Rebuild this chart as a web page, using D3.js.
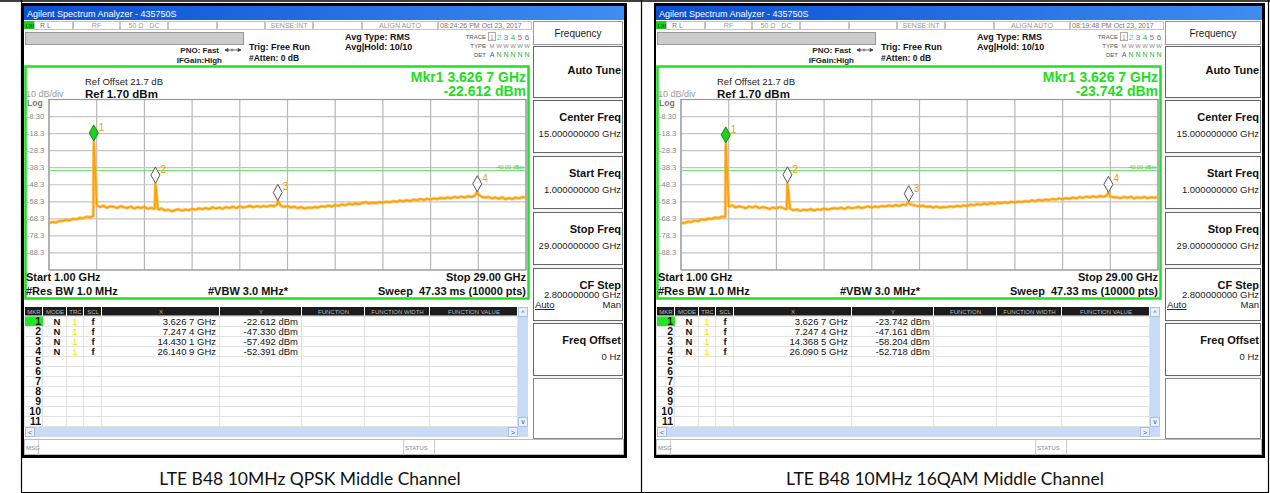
<!DOCTYPE html>
<html>
<head>
<meta charset="utf-8">
<script src="https://cdn.jsdelivr.net/npm/d3@7"></script>
<style>
body { margin: 0; background: #fff; }
svg { display: block; }
text { font-family: "Liberation Sans", Arial, sans-serif; white-space: pre; }
</style>
</head>
<body>
<svg id="chart" width="1270" height="493"></svg>
<script>
// sweep settings shown on both screens
var sweepStart = 1.0, sweepStop = 29.0;
var refLevel = 1.70, dbPerDiv = 10, displayLine = -40.00;
var yTickLabels = ["-8.30", "-18.3", "-28.3", "-38.3", "-48.3", "-58.3", "-68.3", "-78.3", "-88.3"];

var traceFreqs = d3.range(sweepStart, sweepStop + 0.001, 0.2);
var qpskTrace = [
  -70.9, -70.1, -70.4, -69.5, -69.6, -68.8, -69.3, -68.3, -68.6, -67.7, -67.9, -67.0, -67.4, -66.8,
  -60.3, -61.4, -60.6, -61.8, -60.9, -61.2, -62.0, -60.8, -61.5, -61.9, -61.0, -62.3, -61.4, -62.0, -61.2, -62.4, -61.8,
  -62.5, -63.0, -62.2, -63.4, -62.9, -63.8, -63.1, -62.6, -63.5, -62.8, -63.2, -62.4, -63.0, -62.1, -62.7,
  -61.9, -62.6, -61.5, -62.2, -61.6, -62.4, -61.3, -61.9, -61.1, -62.0, -60.9, -61.7, -61.2, -60.6, -61.5, -60.8, -61.3,
  -60.7, -61.2, -60.4, -60.9, -59.8, -60.6, -61.3, -60.8, -61.6, -61.1, -62.0, -61.4, -62.2, -61.6, -61.9,
  -61.3, -61.7, -60.9, -61.2, -60.5, -61.0, -60.2, -60.6, -59.8, -60.3, -59.4, -59.9, -59.2, -59.7, -59.0, -58.5, -59.3, -58.7, -59.1, -58.4, -58.9, -58.2,
  -58.6, -57.9, -58.3, -57.5, -58.0, -57.3, -57.8, -57.0, -57.4, -56.7, -57.2, -56.5, -56.9, -56.3,
  -56.7, -56.0, -56.4, -55.7, -56.2, -55.4, -55.9, -55.2, -55.8, -55.0, -55.5, -54.6, -54.0, -55.3,
  -55.9, -55.4, -56.3, -55.7, -56.5, -55.6, -56.8, -56.1, -56.6, -55.8, -56.3, -55.5, -55.9
];
var qamTrace = [
  -70.5, -70.8, -69.9, -70.2, -69.3, -69.7, -68.6, -69.0, -68.1, -68.4, -67.5, -67.8, -66.9, -67.2,
  -61.0, -60.4, -61.6, -60.9, -61.3, -62.1, -61.0, -61.7, -60.8, -62.0, -61.4, -61.8, -62.5, -61.6, -62.2, -61.3, -62.0,
  -62.8, -62.3, -63.3, -62.7, -63.6, -62.9, -63.2, -62.5, -63.4, -62.6, -63.0, -62.2, -62.8, -62.4, -62.0,
  -62.3, -61.7, -62.5, -61.4, -62.1, -61.8, -61.2, -62.0, -61.5, -60.9, -61.6, -61.0, -61.4, -60.7, -61.1, -60.4, -60.9,
  -60.2, -60.8, -59.9, -60.3, -59.5, -60.1, -60.6, -61.0, -60.5, -61.3, -60.9, -61.6, -61.1, -61.8, -61.3,
  -61.5, -60.9, -61.3, -60.6, -61.0, -60.3, -60.8, -59.9, -60.4, -59.6, -60.1, -59.3, -59.8, -59.0, -59.5, -58.8, -59.2, -58.5, -59.0, -58.3, -58.7, -58.1,
  -58.4, -57.8, -58.2, -57.4, -57.9, -57.1, -57.6, -56.9, -57.3, -56.6, -57.0, -56.3, -56.8, -56.1,
  -56.5, -55.8, -56.3, -55.5, -56.0, -55.2, -55.7, -55.0, -55.6, -54.8, -55.3, -54.6, -55.2, -55.7,
  -55.6, -56.2, -55.4, -56.0, -55.3, -56.4, -55.7, -56.1, -55.5, -56.2, -55.6, -55.9, -55.4
];

// marker table values
var qpskMkrFreq = [3.6267, 7.2474, 14.4301, 26.1409];
var qpskMkrAmp = [-22.612, -47.330, -57.492, -52.391];
var qamMkrFreq = [3.6267, 7.2474, 14.3685, 26.0905];
var qamMkrAmp = [-23.742, -47.161, -58.204, -52.718];

var timestamps = ["08:24:26 PM Oct 23, 2017", "08:19:48 PM Oct 23, 2017"];
var captions = ["LTE B48 10MHz QPSK Middle Channel", "LTE B48 10MHz 16QAM Middle Channel"];

var softkeyLabels = ["Auto Tune", "Center Freq", "Start Freq", "Stop Freq", "CF Step", "Freq Offset"];
var softkeyValues = ["", "15.000000000 GHz", "1.000000000 GHz", "29.000000000 GHz", "2.800000000 GHz", "0 Hz"];
var tableCols = ["MKR", "MODE", "TRC", "SCL", "X", "Y", "FUNCTION", "FUNCTION WIDTH", "FUNCTION VALUE"];
var statusCells = ["R L", "RF", "50 \u03a9   DC", "", "", "SENSE:INT", "", "ALIGN AUTO"];

var svg = d3.select("#chart");

var defs = svg.append("defs");
var grad = defs.append("linearGradient").attr("id", "titleGrad");
grad.append("stop").attr("offset", "0%").attr("stop-color", "#0a4fd2");
grad.append("stop").attr("offset", "100%").attr("stop-color", "#3d8df2");

// plain hyphen minus like the instrument shows
var fmtF = function(f) { var s = d3.format(".4f")(f); return s.slice(0, -1) + " " + s.slice(-1) + " GHz"; };
var fmtA = function(a) { return d3.format(".3f")(a).replace("\u2212", "-") + " dBm"; };

function txt(g, x, y, s, size, opts) {
  opts = opts || {};
  return g.append("text")
    .attr("x", x).attr("y", y)
    .attr("font-size", size)
    .attr("font-weight", opts.bold ? "bold" : "normal")
    .attr("text-anchor", opts.anchor || "start")
    .attr("fill", opts.fill || "#111")
    .text(s);
}

function drawScreen(dx, extra, trace, mkrF, mkrA, stamp) {
  var g = svg.append("g").attr("transform", "translate(" + dx + ",0)");
  var right = 627 + extra;

  // black frame + white screen
  g.append("rect").attr("x", 22).attr("y", 3).attr("width", right - 22).attr("height", 455).attr("fill", "#000");
  g.append("rect").attr("x", 24).attr("y", 6).attr("width", right - 27).attr("height", 449).attr("fill", "#fff");

  // title bar
  g.append("rect").attr("x", 24).attr("y", 6).attr("width", right - 27).attr("height", 14).attr("fill", "url(#titleGrad)");
  txt(g, 27, 17, "Agilent Spectrum Analyzer - 435750S", 9, {fill: "#fff"});

  // status row
  var cellEdges = [34, 73, 120, 168, 217, 265, 313, 362, 438, 532];
  g.append("rect").attr("x", 24).attr("y", 21).attr("width", 10).attr("height", 8).attr("fill", "#19d219");
  txt(g, 25.5, 27.5, "LXI", 5.5, {bold: true, fill: "#063"});
  cellEdges.slice(0, -1).forEach(function(x0, i) {
    var x1 = cellEdges[i + 1];
    g.append("rect").attr("x", x0 + 0.5).attr("y", 21.5).attr("width", x1 - x0 - 1).attr("height", 8)
      .attr("fill", "#fff").attr("stroke", "#c4c4c4");
    var s = i < statusCells.length ? statusCells[i] : stamp;
    if (i === 0) txt(g, 40, 28, s, 7, {fill: "#777"});
    else if (i === 8) txt(g, x0 + 2, 28, s, 7, {fill: "#777"});
    else txt(g, (x0 + x1) / 2, 28, s, 7, {fill: "#999", anchor: "middle"});
  });

  // gray bar and acquisition settings
  g.append("rect").attr("x", 25.5).attr("y", 32.5).attr("width", 218).attr("height", 12)
    .attr("fill", "#cbcbcb").attr("stroke", "#999");
  txt(g, 219, 53, "PNO: Fast", 8, {bold: true, anchor: "end", fill: "#222"});
  g.append("path").attr("d", "M225,50H241M225,50l3,-1.5v3zM241,50l-3,-1.5v3zM232,48.5v3")
    .attr("stroke", "#444").attr("fill", "#444").attr("stroke-width", 0.8);
  txt(g, 222, 63, "IFGain:High", 8, {bold: true, anchor: "end", fill: "#222"});
  txt(g, 249, 50, "Trig: Free Run", 9, {bold: true, fill: "#111"});
  txt(g, 249, 61, "#Atten: 0 dB", 8.5, {bold: true, fill: "#111"});
  txt(g, 345, 40, "Avg Type: RMS", 9, {bold: true, fill: "#111"});
  txt(g, 345, 50, "Avg|Hold: 10/10", 9, {bold: true, fill: "#111"});

  // trace / type / det block
  txt(g, 486, 39, "TRACE", 6, {anchor: "end", fill: "#555"});
  txt(g, 486, 48, "TYPE", 6, {anchor: "end", fill: "#555"});
  txt(g, 486, 57, "DET", 6, {anchor: "end", fill: "#555"});
  var trColors = ["#f0a000", "#20c8e0", "#e040d0", "#20c020", "#e84090", "#6060f0"];
  g.append("rect").attr("x", 488.5).attr("y", 32.5).attr("width", 7).attr("height", 8)
    .attr("fill", "none").attr("stroke", "#aaa");
  trColors.forEach(function(c, i) {
    txt(g, 492 + i * 7, 39.5, String(i + 1), 8, {anchor: "middle", fill: c});
    txt(g, 492 + i * 7, 48, i === 0 ? "M" : "W", 6, {anchor: "middle", fill: "#888"});
    txt(g, 492 + i * 7, 57, i === 0 ? "A" : "N", 7, {anchor: "middle", fill: i === 0 ? "#3060c0" : "#30b030"});
  });

  // plot frame
  g.append("rect").attr("x", 25.5).attr("y", 66.5).attr("width", 503).attr("height", 232)
    .attr("fill", "none").attr("stroke", "#22e022").attr("stroke-width", 2.5);

  var gx0 = 49, gx1 = 526, gy0 = 99.5, gy1 = 270;
  var x = d3.scaleLinear().domain([sweepStart, sweepStop]).range([gx0, gx1]);
  var y = d3.scaleLinear().domain([refLevel - 10 * dbPerDiv, refLevel]).range([gy1, gy0]);

  txt(g, 85, 85, "Ref Offset 21.7 dB", 9.5, {fill: "#222"});
  txt(g, 85, 97.5, "Ref 1.70 dBm", 11.5, {bold: true, fill: "#111"});
  txt(g, 26, 97, "10 dB/div", 9, {fill: "#999"});
  txt(g, 27, 105.5, "Log", 8.5, {bold: true, fill: "#777"});
  txt(g, 526, 82, "Mkr1 " + fmtF(mkrF[0]), 14, {bold: true, anchor: "end", fill: "#22dd22"});
  txt(g, 526, 96, fmtA(mkrA[0]), 14, {bold: true, anchor: "end", fill: "#22dd22"});

  // grid
  var grid = g.append("g");
  d3.range(11).forEach(function(i) {
    var f = sweepStart + i * (sweepStop - sweepStart) / 10;
    grid.append("line").attr("x1", x(f)).attr("x2", x(f)).attr("y1", gy0).attr("y2", gy1)
      .attr("stroke", "#b8b8b8").attr("stroke-width", 1.2);
    var lv = refLevel - i * dbPerDiv;
    grid.append("line").attr("x1", gx0).attr("x2", gx1).attr("y1", y(lv)).attr("y2", y(lv))
      .attr("stroke", "#c4c4c4").attr("stroke-width", 1.2);
  });
  grid.append("rect").attr("x", gx0).attr("y", gy0).attr("width", gx1 - gx0).attr("height", gy1 - gy0)
    .attr("fill", "none").attr("stroke", "#999").attr("stroke-width", 1.2);
  yTickLabels.forEach(function(s, i) {
    txt(g, 27, y(refLevel - (i + 1) * dbPerDiv) + 2.5, s, 7.5, {fill: "#888"});
  });

  // display line
  g.append("line").attr("x1", gx0).attr("x2", gx1).attr("y1", y(displayLine)).attr("y2", y(displayLine))
    .attr("stroke", "#66e066").attr("stroke-width", 1);
  txt(g, 524, y(displayLine) - 1.5, "-40.00 dBm", 5.5, {anchor: "end", fill: "#44cc44"});

  // trace with marker points merged in
  var pts = traceFreqs.map(function(f, i) { return {f: f, v: trace[i]}; })
    .concat(mkrF.map(function(f, i) { return {f: f, v: mkrA[i]}; }))
    .sort(function(a, b) { return a.f - b.f; });
  var line = d3.line().x(function(d) { return x(d.f); }).y(function(d) { return y(d.v); });
  g.append("path").datum(pts).attr("d", line).attr("fill", "none")
    .attr("stroke", "#ffb030").attr("stroke-width", 3.2).attr("stroke-linejoin", "bevel").attr("opacity", 0.7);
  g.append("path").datum(pts).attr("d", line).attr("fill", "none")
    .attr("stroke", "#ff9f00").attr("stroke-width", 1.5).attr("stroke-linejoin", "round");

  // markers
  mkrF.forEach(function(f, i) {
    var px = x(f), py = y(mkrA[i]);
    g.append("path").attr("d", "M" + px + "," + py + "l4.5,-8l-4.5,-8l-4.5,8z")
      .attr("fill", i === 0 ? "#22d022" : "#fff")
      .attr("stroke", i === 0 ? "#118811" : "#555").attr("stroke-width", 1);
    txt(g, px + 5, py - 10, String(i + 1), 10, {fill: "#f0a000"});
  });

  // bottom annotations
  txt(g, 26, 281, "Start 1.00 GHz", 11, {bold: true});
  txt(g, 26, 295, "#Res BW 1.0 MHz", 11, {bold: true});
  txt(g, 208, 295, "#VBW 3.0 MHz*", 11, {bold: true});
  txt(g, 526, 281, "Stop 29.00 GHz", 11, {bold: true, anchor: "end"});
  txt(g, 526, 295, "Sweep  47.33 ms (10000 pts)", 11, {bold: true, anchor: "end"});

  // marker table
  var colEdges = [25, 43, 67, 84, 102, 220, 302, 365, 430, 518];
  colEdges.slice(0, -1).forEach(function(x0, i) {
    var x1 = colEdges[i + 1];
    g.append("rect").attr("x", x0).attr("y", 307).attr("width", x1 - x0 - 1).attr("height", 8.5).attr("fill", "#1c1c1c");
    txt(g, (x0 + x1) / 2, 313.5, tableCols[i], 6, {anchor: "middle", fill: "#bbb"});
  });
  d3.range(12).forEach(function(r) {
    g.append("line").attr("x1", 25).attr("x2", 518).attr("y1", 316 + r * 10 + 0.5).attr("y2", 316 + r * 10 + 0.5)
      .attr("stroke", "#e2e2e2");
  });
  colEdges.forEach(function(cx) {
    g.append("line").attr("x1", cx - 0.5).attr("x2", cx - 0.5).attr("y1", 316).attr("y2", 427).attr("stroke", "#e2e2e2");
  });
  g.append("rect").attr("x", 25).attr("y", 316.5).attr("width", 18).attr("height", 9.5).attr("fill", "#22e622");
  d3.range(11).forEach(function(r) {
    var by = 316 + r * 10 + 9;
    txt(g, 41, by, String(r + 1), 10.5, {bold: true, anchor: "end"});
    if (r < mkrF.length) {
      txt(g, 57, by, "N", 9.5, {bold: true, anchor: "middle"});
      txt(g, 75, by, "1", 9.5, {anchor: "middle", fill: "#f0e000"});
      txt(g, 93, by, "f", 9.5, {bold: true, anchor: "middle"});
      txt(g, 216, by, fmtF(mkrF[r]), 9.5, {anchor: "end"});
      txt(g, 298, by, fmtA(mkrA[r]), 9.5, {anchor: "end"});
    }
  });
  // scroll bars
  g.append("rect").attr("x", 518).attr("y", 307).attr("width", 10).attr("height", 120).attr("fill", "#c9daf6");
  g.append("rect").attr("x", 518.5).attr("y", 307.5).attr("width", 9).attr("height", 9).attr("fill", "#e8f0fc").attr("stroke", "#a8c0e8");
  g.append("rect").attr("x", 518.5).attr("y", 417.5).attr("width", 9).attr("height", 9).attr("fill", "#e8f0fc").attr("stroke", "#a8c0e8");
  txt(g, 523, 315, "^", 7, {anchor: "middle", fill: "#557"});
  txt(g, 523, 424, "v", 7, {anchor: "middle", fill: "#557"});
  g.append("rect").attr("x", 25).attr("y", 427).attr("width", 503).attr("height", 10).attr("fill", "#c9daf6");
  g.append("rect").attr("x", 25.5).attr("y", 427.5).attr("width", 9).attr("height", 9).attr("fill", "#e8f0fc").attr("stroke", "#a8c0e8");
  g.append("rect").attr("x", 508.5).attr("y", 427.5).attr("width", 9).attr("height", 9).attr("fill", "#e8f0fc").attr("stroke", "#a8c0e8");
  txt(g, 30, 435, "<", 7, {anchor: "middle", fill: "#557"});
  txt(g, 513, 435, ">", 7, {anchor: "middle", fill: "#557"});

  // msg bar
  g.append("rect").attr("x", 24.5).attr("y", 439.5).attr("width", right - 28).attr("height", 15)
    .attr("fill", "#fff").attr("stroke", "#bbb");
  g.append("line").attr("x1", 38.5).attr("x2", 38.5).attr("y1", 440).attr("y2", 455).attr("stroke", "#ccc");
  g.append("line").attr("x1", 403.5).attr("x2", 403.5).attr("y1", 440).attr("y2", 455).attr("stroke", "#ccc");
  g.append("line").attr("x1", 434.5).attr("x2", 434.5).attr("y1", 440).attr("y2", 455).attr("stroke", "#ccc");
  txt(g, 26, 450, "MSG", 6, {fill: "#888"});
  txt(g, 405, 450, "STATUS", 6, {fill: "#888"});

  // softkey panel
  var kx0 = 533, kx1 = 623 + extra;
  g.append("rect").attr("x", kx0).attr("y", 21).attr("width", kx1 - kx0).attr("height", 418).attr("fill", "#f4f4f4");
  g.append("rect").attr("x", kx0 + 0.5).attr("y", 21.5).attr("width", kx1 - kx0 - 1).attr("height", 23)
    .attr("fill", "#fff").attr("stroke", "#999");
  txt(g, (kx0 + kx1) / 2, 37, "Frequency", 10, {anchor: "middle", fill: "#222"});
  var keyTops = [46, 100, 156, 212, 268, 323];
  softkeyLabels.forEach(function(s, i) {
    var t = keyTops[i];
    var h = i === 0 ? 51 : 52;
    g.append("rect").attr("x", kx0 + 0.5).attr("y", t + 0.5).attr("width", kx1 - kx0 - 1).attr("height", h)
      .attr("fill", "#fff").attr("stroke", "#666");
    var ly = i === 0 ? t + 28 : t + 21;
    txt(g, kx1 - 2, ly, s, 11, {bold: true, anchor: "end"});
    if (softkeyValues[i]) {
      var vy = i === 4 ? t + 30 : t + 37;
      txt(g, kx1 - 2, vy, softkeyValues[i], 9.5, {anchor: "end", fill: "#222"});
    }
  });
  txt(g, kx0 + 2, 308, "Auto", 9.5, {fill: "#222"}).attr("text-decoration", "underline");
  txt(g, kx1 - 2, 308, "Man", 9.5, {anchor: "end", fill: "#222"});
  g.append("rect").attr("x", kx0 + 0.5).attr("y", 378.5).attr("width", kx1 - kx0 - 1).attr("height", 60)
    .attr("fill", "#fff").attr("stroke", "#888");
}

// table frame around the two screenshots
svg.append("line").attr("x1", 0).attr("x2", 1270).attr("y1", 1).attr("y2", 1).attr("stroke", "#000").attr("stroke-width", 1.5);
[21.5, 641.5, 1268.5].forEach(function(lx) {
  svg.append("line").attr("x1", lx).attr("x2", lx).attr("y1", 0).attr("y2", 493).attr("stroke", "#000").attr("stroke-width", 1.2);
});
svg.append("line").attr("x1", 21).attr("x2", 1269).attr("y1", 492.5).attr("y2", 492.5).attr("stroke", "#000").attr("stroke-width", 1);

drawScreen(0, 0, qpskTrace, qpskMkrFreq, qpskMkrAmp, timestamps[0]);
drawScreen(632, 6, qamTrace, qamMkrFreq, qamMkrAmp, timestamps[1]);

svg.selectAll(".caption").data(captions).enter().append("text")
  .attr("class", "caption")
  .attr("x", function(d, i) { return i === 0 ? 310 : 945; })
  .attr("y", 485)
  .attr("text-anchor", "middle")
  .attr("font-size", 17.5)
  .style("font-family", "Lato, 'Open Sans', sans-serif")
  .attr("fill", "#111")
  .text(function(d) { return d; });
</script>
</body>
</html>
